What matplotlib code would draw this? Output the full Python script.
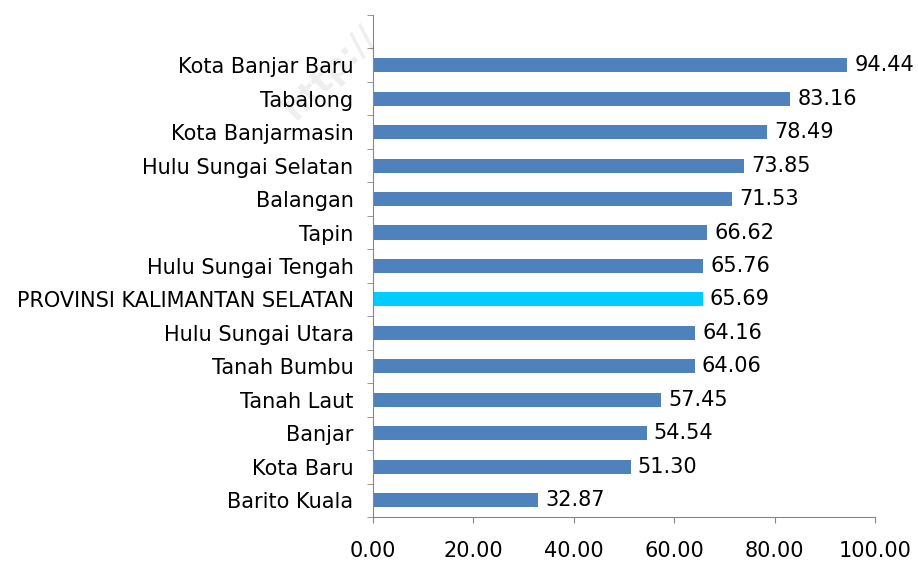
import matplotlib.pyplot as plt
import numpy as np

# regencies, bottom to top as drawn
names = ['Barito Kuala', 'Kota Baru', 'Banjar', 'Tanah Laut', 'Tanah Bumbu',
         'Hulu Sungai Utara', 'PROVINSI KALIMANTAN SELATAN', 'Hulu Sungai Tengah',
         'Tapin', 'Balangan', 'Hulu Sungai Selatan', 'Kota Banjarmasin',
         'Tabalong', 'Kota Banjar Baru']
values = [32.87, 51.30, 54.54, 57.45, 64.06, 64.16, 65.69, 65.76,
          66.62, 71.53, 73.85, 78.49, 83.16, 94.44]
highlight = 'PROVINSI KALIMANTAN SELATAN'

plt.rcParams['font.family'] = ['DejaVu Sans']
fs = 15

fig = plt.figure(figsize=(9.18, 5.63), dpi=100)
ax = fig.add_axes([0.4063, 0.0817, 0.5469, 0.8917])
ax.patch.set_alpha(0)

colors = ['#00CCFF' if n == highlight else '#4F81BD' for n in names]
y = np.arange(len(names))
ax.barh(y, values, height=0.42, color=colors)

for yi, v in zip(y, values):
    ax.text(v + 1.4, yi, f'{v:.2f}', va='center', ha='left', fontsize=fs)

ax.set_xlim(0, 100)
ax.set_ylim(-0.5, len(names) + 0.5)
ax.set_xticks(np.arange(0, 101, 20))
ax.set_xticklabels([f'{t:.2f}' for t in np.arange(0, 101, 20)], fontsize=fs)
ax.set_yticks(y)
ax.set_yticklabels(names, fontsize=fs)
ax.set_yticks(np.arange(-0.5, len(names) + 0.6, 1), minor=True)
ax.tick_params(axis='y', which='major', length=0, pad=14)
ax.tick_params(axis='y', which='minor', length=4.5, color='#868686')
ax.tick_params(axis='x', length=4.5, color='#868686', pad=13)

for s in ['top', 'right']:
    ax.spines[s].set_visible(False)
for s in ['left', 'bottom']:
    ax.spines[s].set_color('#868686')

# faint watermark
fig.text(0.36, 0.87, 'http://', rotation=45, fontsize=24, fontweight='bold',
         color='#000000', alpha=0.07, ha='center', va='center', zorder=0)

fig.savefig('out.png', dpi=100)
